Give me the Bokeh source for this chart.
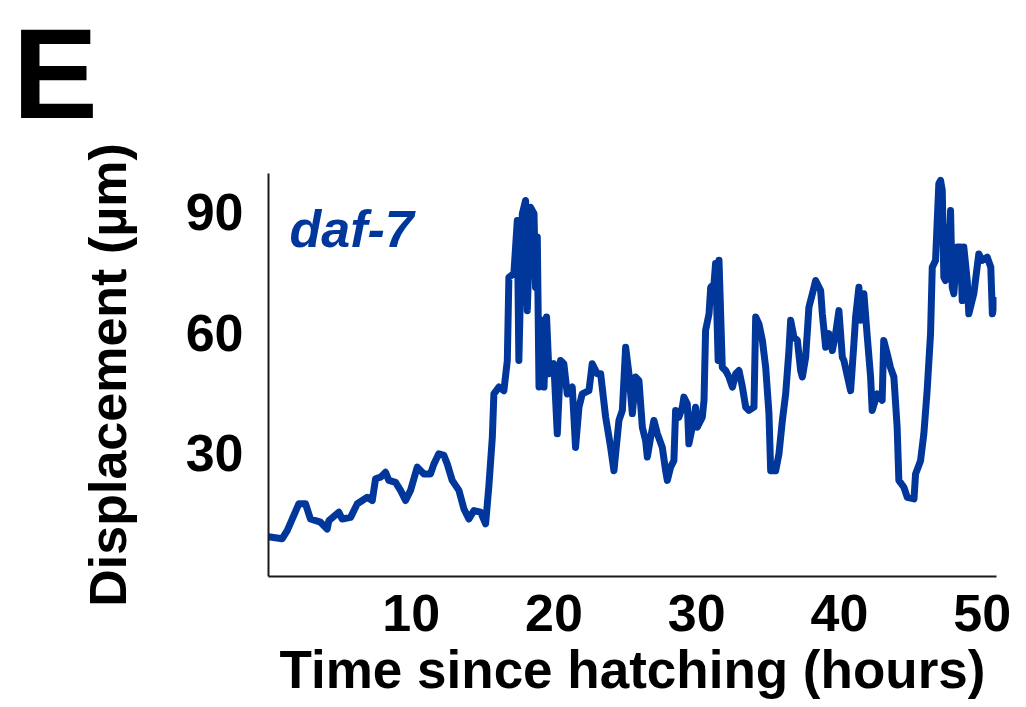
from bokeh.plotting import figure
from bokeh.models import Label, FixedTicker, Range1d, ColumnDataSource, Title
from bokeh.embed import file_html
from bokeh.resources import INLINE

# Displacement trace of a daf-7 animal over time
time_h = [
    0.0, 0.96, 1.31, 2.13, 2.59, 2.94, 3.64, 4.11, 4.23, 4.93, 5.16, 5.75, 6.22,
    6.92, 7.27, 7.5, 7.85, 8.2, 8.43, 8.9, 9.25, 9.6, 9.95, 10.42, 10.89, 11.35,
    11.59, 11.93, 12.29, 12.52, 12.87, 13.34, 13.69, 14.04, 14.39, 14.86, 15.21,
    15.44, 15.68, 15.79, 16.14, 16.49, 16.73, 16.84, 17.19, 17.43, 17.54, 17.78,
    18.01, 18.13, 18.36, 18.6, 18.71, 18.83, 18.95, 19.18, 19.3, 19.48, 19.65,
    19.99, 20.23, 20.46, 20.69, 20.93, 21.28, 21.51, 21.75, 21.98, 22.45, 22.68,
    23.03, 23.27, 23.62, 23.97, 24.2, 24.55, 24.79, 25.02, 25.25, 25.49, 25.72,
    25.95, 26.19, 26.42, 26.54, 26.77, 27.0, 27.24, 27.59, 27.82, 27.94, 28.17,
    28.4, 28.52, 28.75, 28.99, 29.1, 29.34, 29.45, 29.69, 29.92, 30.04, 30.39,
    30.51, 30.62, 30.86, 30.98, 31.21, 31.32, 31.5, 31.56, 31.79, 32.03, 32.26,
    32.5, 32.73, 32.96, 33.2, 33.43, 33.66, 34.01, 34.13, 34.36, 34.6, 34.83,
    35.06, 35.18, 35.53, 35.76, 36.0, 36.23, 36.46, 36.58, 36.81, 37.05, 37.28,
    37.4, 37.63, 37.86, 38.1, 38.33, 38.68, 38.8, 39.03, 39.26, 39.5, 39.73,
    39.96, 40.2, 40.31, 40.78, 41.01, 41.13, 41.36, 41.48, 41.71, 41.95, 42.18,
    42.29, 42.64, 42.99, 43.1, 43.34, 43.57, 43.81, 44.04, 44.16, 44.51, 44.75,
    45.22, 45.33, 45.68, 45.91, 46.14, 46.38, 46.5, 46.73, 46.96, 47.08, 47.2,
    47.31, 47.43, 47.55, 47.66, 47.78, 47.9, 48.01, 48.25, 48.48, 48.6, 48.71,
    48.95, 49.06, 49.41, 49.76, 50.0, 50.35, 50.6, 50.71, 50.95,
]
displacement_um = [
    9.3, 8.8, 10.8, 17.5, 17.5, 13.7, 12.9, 11.2, 13.3, 15.4, 13.7, 14.1, 17.5,
    19.1, 18.3, 23.7, 24.1, 25.3, 23.3, 22.8, 20.8, 18.3, 20.8, 26.6, 24.9, 24.9,
    27.4, 29.9, 29.5, 27.4, 23.3, 20.8, 16.2, 13.7, 15.8, 15.4, 12.5,
    22.0, 34.0, 44.8, 46.5, 45.6, 53.1, 73.8, 74.7, 87.9, 53.1, 89.6,
    92.9, 65.5, 91.2, 89.6, 71.3, 83.8, 46.5, 63.1, 46.5, 63.9, 49.8,
    52.3, 34.9, 53.1, 52.3, 44.8, 46.5, 31.5, 41.5, 44.8, 45.6, 52.3,
    49.8, 49.8, 39.0, 31.5, 25.7, 38.2, 40.7, 56.4, 49.8, 39.9, 49.0,
    48.1, 36.5, 33.2, 29.1, 34.0, 38.2, 34.9, 31.5, 25.7, 23.3, 26.6,
    28.2, 40.7, 39.0, 41.5, 44.0, 42.3, 32.4, 36.5, 41.5, 36.5, 39.0,
    43.2, 60.6, 64.7, 71.3, 72.2, 77.2, 53.1, 78.0, 51.4, 50.6, 49.0,
    46.5, 49.8, 50.6, 46.5, 41.5, 40.7, 41.5, 63.9, 62.2, 58.1, 51.4,
    39.9, 25.7, 25.7, 29.9, 38.2, 44.8, 55.6, 63.1, 58.9, 58.1, 50.6,
    49.0, 53.9, 66.4, 69.7, 73.0, 70.5, 64.7, 56.4, 59.8, 55.6, 59.8,
    65.5, 53.9, 53.1, 45.6, 57.3, 63.9, 71.3, 63.1, 69.7, 58.9, 49.0,
    40.7, 44.8, 43.2, 58.1, 54.8, 51.4, 49.0, 36.5, 23.3, 21.6, 19.1,
    18.7, 24.9, 28.2, 34.9, 45.6, 59.8, 76.3, 78.0, 97.1, 97.9, 95.4,
    73.8, 73.0, 86.3, 78.0, 90.4, 71.3, 69.7, 81.3, 81.3, 68.0, 81.3,
    73.0, 64.7, 69.7, 79.6, 78.0, 78.8, 76.3, 64.7, 68.0,
]

# Points are plotted in time order
pairs = sorted(zip(time_h, displacement_um), key=lambda t: t[0])
src = ColumnDataSource(data=dict(t=[a for a, _ in pairs], d=[b for _, b in pairs]))

x_ticks = [10, 20, 30, 40, 50]
y_ticks = [30, 60, 90]

LINE_BLUE = "#01379b"
FONT = "Liberation Sans"

p = figure(
    width=1026, height=707,
    output_backend="svg", toolbar_location=None,
    x_range=Range1d(0, 51), y_range=Range1d(-0.6, 99.6),
    min_border_left=268, min_border_right=30,
    min_border_top=173, min_border_bottom=131,
    background_fill_color="white", border_fill_color="white",
)
p.outline_line_color = None
p.grid.visible = False

# Thin blank strip between the frame and the panel letter, lifting the letter up
p.add_layout(Title(text=" ", standoff=23, text_font=FONT,
                   text_font_size="2px", text_color="white"), "above")
# Panel letter, drawn as the outermost title
p.add_layout(Title(text="E", align="left", offset=-256, standoff=0,
                   vertical_align="top", text_font=FONT,
                   text_font_style="bold", text_font_size="128px",
                   text_color="black"), "above")

p.line("t", "d", source=src, line_color=LINE_BLUE, line_width=7,
       line_join="round", line_cap="round")

for ax in (p.xaxis[0], p.yaxis[0]):
    ax.axis_line_color = "#1a1a1a"
    ax.axis_line_width = 2
    ax.major_tick_line_color = None
    ax.minor_tick_line_color = None
    ax.major_label_text_font = FONT
    ax.major_label_text_font_style = "bold"
    ax.major_label_text_font_size = "52px"
    ax.major_label_text_color = "black"
    ax.axis_label_text_font = FONT
    ax.axis_label_text_font_style = "bold"
    ax.axis_label_text_color = "black"

p.xaxis.axis_label_text_font_size = "53px"
p.yaxis.axis_label_text_font_size = "52px"
p.xaxis.ticker = FixedTicker(ticks=x_ticks)
p.yaxis.ticker = FixedTicker(ticks=y_ticks)
p.xaxis.axis_label = "Time since hatching (hours)"
p.yaxis.axis_label = "Displacement (µm)"
p.xaxis.major_label_standoff = 12
p.yaxis.major_label_standoff = 19
p.xaxis.axis_label_standoff = 6
p.yaxis.axis_label_standoff = 46

# Strain name inside the plot
p.add_layout(Label(x=21, y=348, x_units="screen", y_units="screen",
                   text="daf-7", text_font=FONT, text_font_style="bold italic",
                   text_font_size="52px", text_color=LINE_BLUE,
                   text_baseline="alphabetic"))

open("out.html", "w").write(file_html(p, INLINE))
